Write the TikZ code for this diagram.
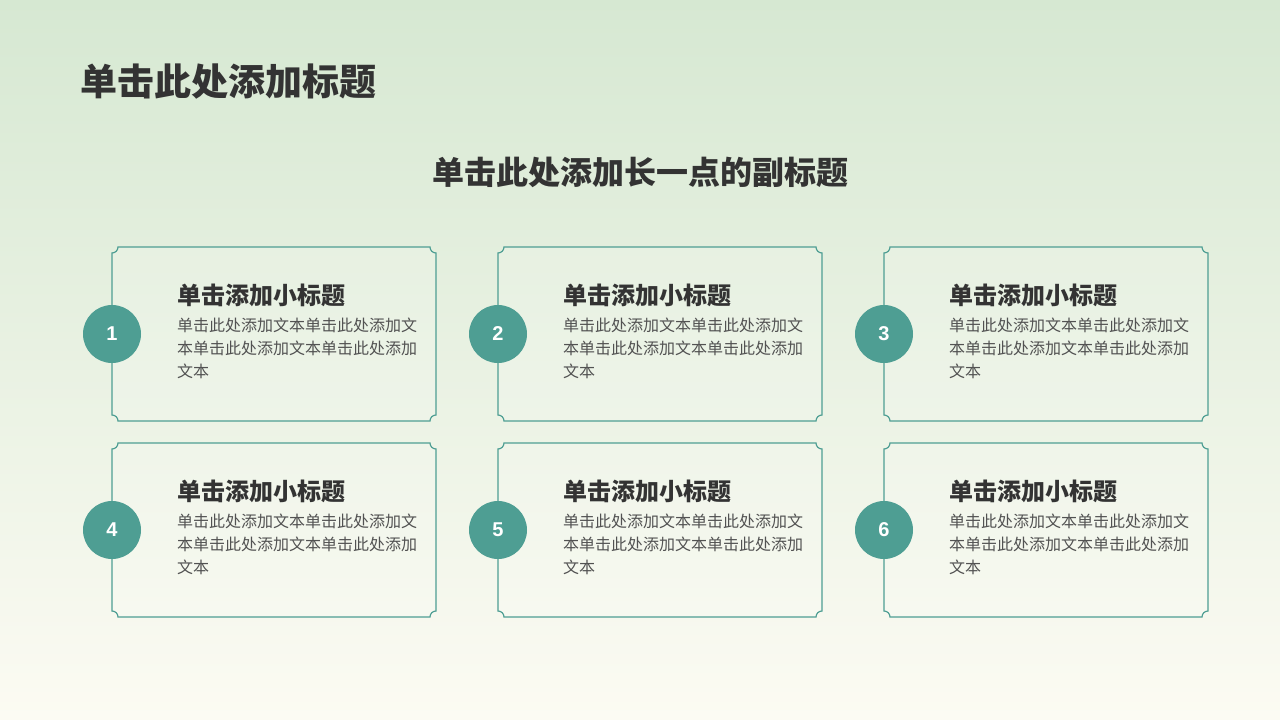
\documentclass[tikz,border=0pt]{standalone}
\usepackage{fontspec}
\setmainfont{Noto Sans CJK SC}
\newfontfamily\numfont{Liberation Sans}
\usetikzlibrary{positioning}
\definecolor{teal}{HTML}{4E9E93}
\definecolor{ink}{HTML}{333333}
\definecolor{bgtop}{HTML}{D6E8D2}
\definecolor{bgbot}{HTML}{FCFBF3}
\tikzset{
  cardline/.style={draw=teal, line width=1.2pt, fill=white, fill opacity=0.15},
  numdot/.style={circle, fill=teal, minimum size=58pt, inner sep=0pt, text=white,
    font=\numfont\bfseries\fontsize{20}{20}\selectfont},
  headtext/.style={anchor=west, text=ink, inner sep=0pt, font=\bfseries\fontsize{24}{24}\selectfont},
  bodytext/.style={anchor=north west, text=ink!85, inner sep=0pt, align=left,
    font=\fontsize{16}{23}\selectfont}
}
\begin{document}
\begin{tikzpicture}[x=1pt, y=1pt]
% background
\shade[top color=bgtop, bottom color=bgbot] (0,0) rectangle (1280,-720);
\useasboundingbox (0,0) rectangle (1280,-720);

% titles
\node (title) [anchor=west, text=ink, inner sep=0pt, font=\bfseries\fontsize{37}{37}\selectfont] at (80,-82) {单击此处添加标题};
\node (subtitle) [text=ink, inner sep=0pt, font=\bfseries\fontsize{32}{32}\selectfont] at (640,-172) {单击此处添加长一点的副标题};

% cards
\foreach \n/\cx/\cy in {1/112/247, 2/498/247, 3/884/247, 4/112/443, 5/498/443, 6/884/443}{
  \pgfmathsetmacro{\xr}{\cx+324}
  \pgfmathsetmacro{\yb}{\cy+174}
  \draw[cardline] (\cx+6,-\cy) -- (\xr-6,-\cy)
    arc[start angle=180, end angle=270, radius=6] -- (\xr,-\yb+6)
    arc[start angle=90, end angle=180, radius=6] -- (\cx+6,-\yb)
    arc[start angle=0, end angle=90, radius=6] -- (\cx,-\cy-6)
    arc[start angle=270, end angle=360, radius=6] -- cycle;
  \node (dot\n) [numdot] at (\cx,-\cy-87) {\n};
  \node (head\n) [headtext] at (\cx+65,-\cy-48) {单击添加小标题};
  \node (body\n) [bodytext] at (\cx+65,-\cy-71)
    {单击此处添加文本单击此处添加文\\本单击此处添加文本单击此处添加\\文本};
}
\end{tikzpicture}
\end{document}
